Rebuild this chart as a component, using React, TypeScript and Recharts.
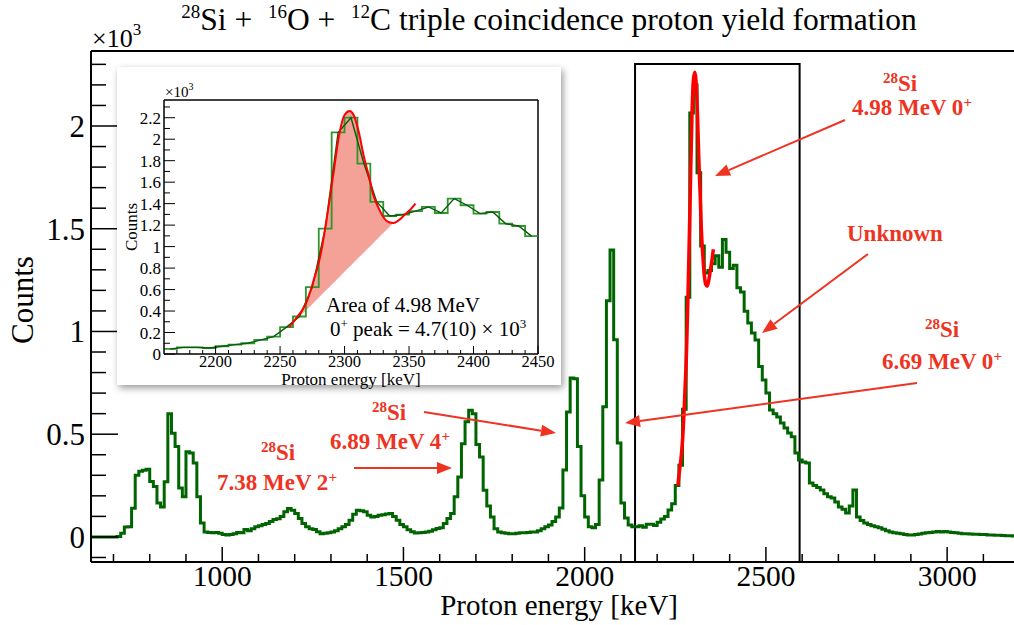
import React from 'react';
import { ComposedChart, Line, Area, XAxis, YAxis, ReferenceArea, ReferenceLine } from 'recharts';

const SERIF = "'Liberation Serif', 'DejaVu Serif', serif";
const GREEN = '#006400';
const RED = '#ee3322';

// Histogram: 10 keV bins starting at 640 keV
const HIST_START = 640;
const HIST_STEP = 10;
const counts = [
  0, 0, 0, 0, 0, 0, 0, 2, 18, 48,
  50, 140, 300, 320, 325, 330, 270, 245, 165, 146,
  268, 600, 505, 440, 238, 195, 414, 409, 360, 195,
  68, 24, 22, 20, 22, 18, 12, 10, 12, 15,
  22, 20, 36, 30, 40, 49, 55, 60, 65, 75,
  85, 89, 100, 122, 138, 130, 114, 90, 65, 50,
  40, 36, 25, 16, 18, 20, 24, 30, 40, 49,
  60, 81, 110, 130, 128, 122, 105, 97, 100, 105,
  108, 112, 114, 100, 81, 60, 49, 35, 25, 19,
  20, 22, 24, 28, 35, 41, 45, 65, 90, 114,
  195, 292, 454, 560, 616, 600, 450, 389, 227, 150,
  97, 40, 24, 20, 18, 16, 16, 18, 20, 20,
  22, 24, 24, 30, 40, 49, 58, 75, 97, 141,
  326, 608, 774, 770, 440, 200, 97, 49, 45, 60,
  277, 633, 1150, 1397, 960, 457, 165, 92, 58, 49,
  49, 55, 47, 62, 62, 56, 72, 87, 100, 131,
  162, 250, 349, 622, 1167, 2063, 2200, 1773, 1416, 1285,
  1297, 1330, 1369, 1313, 1447, 1385, 1307, 1322, 1213, 1192,
  1098, 1041, 993, 959, 829, 764, 700, 618, 600, 584,
  555, 530, 506, 487, 409, 375, 365, 360, 263, 250,
  240, 229, 210, 195, 190, 170, 146, 135, 117, 150,
  229, 97, 80, 68, 60, 55, 49, 45, 38, 30,
  24, 20, 18, 15, 12, 10, 10, 12, 14, 18,
  20, 22, 24, 26, 24, 26, 24, 22, 20, 18,
  16, 16, 14, 13, 13, 12, 12, 10, 10, 8,
  8, 7, 6, 6, 5,
];

// Fit (Gaussian + background)
const fitX = [2257, 2263, 2267, 2271, 2276, 2281, 2286, 2291, 2296, 2300, 2304, 2307, 2311, 2315, 2319, 2322, 2326, 2330, 2334, 2338, 2342, 2347, 2351, 2355];
const fitY = [249, 342, 404, 498, 684, 902, 1245, 1649, 2053, 2225, 2262, 2225, 2069, 1836, 1649, 1493, 1369, 1276, 1229, 1220, 1245, 1300, 1344, 1400];
// Linear background under the peak (shaded area lower edge)
const bgX = [2257, 2338];
const bgY = [249, 1222];

const mainXTicks = [700, 800, 900, 1000, 1100, 1200, 1300, 1400, 1500, 1600, 1700, 1800, 1900, 2000, 2100, 2200, 2300, 2400, 2500, 2600, 2700, 2800, 2900, 3000, 3100];
const mainYTicks = [-100, 0, 100, 200, 300, 400, 500, 600, 700, 800, 900, 1000, 1100, 1200, 1300, 1400, 1500, 1600, 1700, 1800, 1900, 2000, 2100, 2200, 2300];
const insetXTicks = [2170, 2180, 2190, 2200, 2210, 2220, 2230, 2240, 2250, 2260, 2270, 2280, 2290, 2300, 2310, 2320, 2330, 2340, 2350, 2360, 2370, 2380, 2390, 2400, 2410, 2420, 2430, 2440, 2450];
const insetYTicks = [0, 100, 200, 300, 400, 500, 600, 700, 800, 900, 1000, 1100, 1200, 1300, 1400, 1500, 1600, 1700, 1800, 1900, 2000, 2100, 2200, 2300];

const MAIN_X = [638, 3190];
const MAIN_Y = [-122, 2365];
const BOX = { x1: 2139, x2: 2593, y2: 2302 };
const INSET_X = [2160, 2450];
const INSET_Y = [0, 2365];

const histData = counts.map((c, i) => ({ x: HIST_START + i * HIST_STEP, y: c }));
histData.push({ x: HIST_START + counts.length * HIST_STEP, y: counts[counts.length - 1] });

const insetStep = histData.filter((d) => d.x >= INSET_X[0] && d.x <= INSET_X[1]);
const insetStepData = insetStep.map((d, i) =>
  d.x === INSET_X[1] ? { x: d.x, y: insetStep[i - 1].y } : d
);
const insetCenters = histData
  .filter((d) => d.x >= INSET_X[0] && d.x < INSET_X[1])
  .map((d) => ({ x: d.x + HIST_STEP / 2, y: d.y }));

const fitData = fitX.map((x, i) => ({ x, y: fitY[i] }));
const bgAt = (x: number) => bgY[0] + ((x - bgX[0]) * (bgY[1] - bgY[0])) / (bgX[1] - bgX[0]);
const shadeData = fitX
  .map((x, i) => ({ x, range: [bgAt(x), fitY[i]] }))
  .filter((d) => d.x >= bgX[0] && d.x <= bgX[1]);

const fmtK = (v: number) => String(Math.round(v / 100) / 10);

const MainXTick = (p: any) => {
  const v = p.payload.value;
  const major = v % 500 === 0;
  return (
    <g>
      <line x1={p.x} x2={p.x} y1={p.y} y2={p.y - (major ? 15 : 8)} stroke="#000" strokeWidth={1.5} />
      {major && (
        <text x={p.x} y={p.y + 24} textAnchor="middle" fontFamily={SERIF} fontSize={29.5} fill="#000">
          {v}
        </text>
      )}
    </g>
  );
};

const MainYTick = (p: any) => {
  const v = p.payload.value;
  const major = v % 500 === 0;
  return (
    <g>
      <line x1={p.x} x2={p.x + (major ? 27 : 15)} y1={p.y} y2={p.y} stroke="#000" strokeWidth={1.5} />
      {major && (
        <text x={p.x - 6} y={p.y + 11} textAnchor="end" fontFamily={SERIF} fontSize={31} fill="#000">
          {fmtK(v)}
        </text>
      )}
    </g>
  );
};

const InsetXTick = (p: any) => {
  const v = p.payload.value;
  const major = v % 50 === 0;
  return (
    <g>
      <line x1={p.x} x2={p.x} y1={p.y} y2={p.y - (major ? 8 : 4)} stroke="#000" strokeWidth={1} />
      {major && (
        <text x={p.x} y={p.y + 13} textAnchor="middle" fontFamily={SERIF} fontSize={16.5} fill="#000">
          {v}
        </text>
      )}
    </g>
  );
};

const InsetYTick = (p: any) => {
  const v = p.payload.value;
  const major = v % 200 === 0;
  return (
    <g>
      <line x1={p.x} x2={p.x + (major ? 11 : 6)} y1={p.y} y2={p.y} stroke="#000" strokeWidth={1} />
      {major && (
        <text x={p.x - 3} y={p.y + 6} textAnchor="end" fontFamily={SERIF} fontSize={17} fill="#000">
          {fmtK(v)}
        </text>
      )}
    </g>
  );
};

function MainChart() {
  return (
    <ComposedChart width={1030} height={625} margin={{ top: 51, right: 14, bottom: 0, left: 0 }}>
      <XAxis
        dataKey="x"
        type="number"
        domain={MAIN_X}
        allowDataOverflow
        ticks={mainXTicks}
        interval={0}
        tickSize={0}
        tickMargin={0}
        tickLine={false}
        height={63}
        axisLine={{ stroke: '#000', strokeWidth: 2 }}
        tick={<MainXTick />}
      />
      <YAxis
        type="number"
        domain={MAIN_Y}
        allowDataOverflow
        ticks={mainYTicks}
        interval={0}
        width={91}
        tickSize={0}
        tickMargin={0}
        tickLine={false}
        axisLine={{ stroke: '#000', strokeWidth: 2 }}
        tick={<MainYTick />}
      />
      <ReferenceLine y={MAIN_Y[1]} stroke="#000" strokeWidth={2} />
      <ReferenceArea
        x1={BOX.x1}
        x2={BOX.x2}
        y1={MAIN_Y[0]}
        y2={BOX.y2}
        fill="none"
        fillOpacity={0}
        stroke="#000"
        strokeWidth={2}
      />
      <Line data={histData} dataKey="y" type="stepAfter" stroke={GREEN} strokeWidth={3} dot={false} isAnimationActive={false} />
      <Line data={fitData} dataKey="y" type="monotone" stroke="#ff0000" strokeWidth={3.5} dot={false} isAnimationActive={false} />
    </ComposedChart>
  );
}

function InsetChart() {
  return (
    <ComposedChart width={444} height={318} margin={{ top: 33, right: 23, bottom: 0, left: 0 }}>
      <XAxis
        dataKey="x"
        type="number"
        domain={INSET_X}
        allowDataOverflow
        ticks={insetXTicks}
        interval={0}
        tickSize={0}
        tickMargin={0}
        tickLine={false}
        height={31}
        axisLine={{ stroke: '#000', strokeWidth: 1.5 }}
        tick={<InsetXTick />}
      />
      <YAxis
        type="number"
        domain={INSET_Y}
        allowDataOverflow
        ticks={insetYTicks}
        interval={0}
        width={47}
        tickSize={0}
        tickMargin={0}
        tickLine={false}
        axisLine={{ stroke: '#000', strokeWidth: 1.5 }}
        tick={<InsetYTick />}
      />
      <ReferenceLine y={INSET_Y[1]} stroke="#000" strokeWidth={1.5} />
      <ReferenceLine x={INSET_X[1]} stroke="#000" strokeWidth={1.5} />
      <Area data={shadeData} dataKey="range" type="monotone" fill="#f4a197" fillOpacity={1} stroke="none" isAnimationActive={false} />
      <Line data={insetStepData} dataKey="y" type="stepAfter" stroke="#2f962f" strokeWidth={1.8} dot={false} isAnimationActive={false} />
      <Line data={insetCenters} dataKey="y" type="linear" stroke="#0b5a0b" strokeWidth={1.4} dot={false} isAnimationActive={false} />
      <Line data={fitData} dataKey="y" type="monotone" stroke="#ff0000" strokeWidth={2} dot={false} isAnimationActive={false} />
    </ComposedChart>
  );
}

function Arrow({ x1, y1, x2, y2 }: { x1: number; y1: number; x2: number; y2: number }) {
  const ang = Math.atan2(y2 - y1, x2 - x1);
  const L = 15;
  const W = 6;
  const bx = x2 - L * Math.cos(ang);
  const by = y2 - L * Math.sin(ang);
  const px = -Math.sin(ang) * W;
  const py = Math.cos(ang) * W;
  return (
    <g>
      <line x1={x1} y1={y1} x2={bx} y2={by} stroke={RED} strokeWidth={2} />
      <polygon points={`${x2},${y2} ${bx + px},${by + py} ${bx - px},${by - py}`} fill={RED} />
    </g>
  );
}

function Sup({ children, size, dy }: { children: React.ReactNode; size: number; dy: number }) {
  return (
    <tspan fontSize={size} dy={-dy}>
      {children}
    </tspan>
  );
}

function Overlay() {
  const ann = { fontFamily: SERIF, fontWeight: 'bold' as const, fill: RED, fontSize: 23 };
  return (
    <svg width={1014} height={625} style={{ position: 'absolute', left: 0, top: 0, pointerEvents: 'none' }}>
      {/* title */}
      <text x={549} y={30} textAnchor="middle" fontFamily={SERIF} fontSize={31.5} fill="#000" style={{ whiteSpace: 'pre' }}>
        <tspan fontSize={19} dy={-12}>28</tspan>
        <tspan dy={12}>{'Si +  '}</tspan>
        <tspan fontSize={19} dy={-12}>16</tspan>
        <tspan dy={12}>{'O +  '}</tspan>
        <tspan fontSize={19} dy={-12}>12</tspan>
        <tspan dy={12}>C triple coincidence proton yield formation</tspan>
      </text>
      <text x={92} y={47} fontFamily={SERIF} fontSize={26} fill="#000">
        ×10<tspan fontSize={17} dy={-12}>3</tspan>
      </text>
      <text x={33} y={300} transform="rotate(-90 33 300)" textAnchor="middle" fontFamily={SERIF} fontSize={31} fill="#000">
        Counts
      </text>
      <text x={678} y={615} textAnchor="end" fontFamily={SERIF} fontSize={29} fill="#000">
        Proton energy [keV]
      </text>

      {/* inset texts */}
      <text x={165} y={97} fontFamily={SERIF} fontSize={15} fill="#000">
        ×10<tspan fontSize={10} dy={-7}>3</tspan>
      </text>
      <text x={137} y={227} transform="rotate(-90 137 227)" textAnchor="middle" fontFamily={SERIF} fontSize={17} fill="#000">
        Counts
      </text>
      <text x={351} y={385} textAnchor="middle" fontFamily={SERIF} fontSize={17} fill="#000">
        Proton energy [keV]
      </text>
      <text x={326} y={312} fontFamily={SERIF} fontSize={21} fill="#000">
        Area of 4.98 MeV
      </text>
      <text x={330} y={336} fontFamily={SERIF} fontSize={21} fill="#000" style={{ whiteSpace: 'pre' }}>
        0<tspan fontSize={13} dy={-8}>+</tspan>
        <tspan dy={8}>{' peak = 4.7(10) × 10'}</tspan>
        <tspan fontSize={13} dy={-8}>3</tspan>
      </text>

      {/* annotations */}
      <text x={883} y={91} {...ann}>
        <Sup size={15} dy={8}>28</Sup>
        <tspan dy={8}>Si</tspan>
      </text>
      <text x={852} y={115} {...ann}>
        4.98 MeV 0<Sup size={15} dy={8}>+</Sup>
      </text>
      <Arrow x1={845} y1={120} x2={715} y2={176} />

      <text x={847} y={241} {...ann}>Unknown</text>
      <Arrow x1={868} y1={254} x2={762} y2={333} />

      <text x={925} y={337} {...ann}>
        <Sup size={15} dy={8}>28</Sup>
        <tspan dy={8}>Si</tspan>
      </text>
      <text x={882} y={369} {...ann}>
        6.69 MeV 0<Sup size={15} dy={8}>+</Sup>
      </text>
      <Arrow x1={917} y1={383} x2={625} y2={423} />

      <text x={372} y={420} {...ann}>
        <Sup size={15} dy={8}>28</Sup>
        <tspan dy={8}>Si</tspan>
      </text>
      <text x={330} y={449} {...ann}>
        6.89 MeV 4<Sup size={15} dy={8}>+</Sup>
      </text>
      <Arrow x1={424} y1={412} x2={556} y2={433} />

      <text x={261} y={460} {...ann}>
        <Sup size={15} dy={8}>28</Sup>
        <tspan dy={8}>Si</tspan>
      </text>
      <text x={217} y={490} {...ann}>
        7.38 MeV 2<Sup size={15} dy={8}>+</Sup>
      </text>
      <Arrow x1={354} y1={468} x2={452} y2={468} />
    </svg>
  );
}

export default function App() {
  return (
    <div
      style={{
        position: 'absolute',
        left: 0,
        top: 0,
        width: 1014,
        height: 625,
        overflow: 'hidden',
        background: '#fff',
        fontFamily: SERIF,
      }}
    >
      <div style={{ position: 'absolute', left: 0, top: 0 }}>
        <MainChart />
      </div>
      <div
        style={{
          position: 'absolute',
          left: 117,
          top: 67,
          width: 444,
          height: 318,
          background: '#fff',
          boxShadow: '2px 3px 7px rgba(0,0,0,0.4)',
        }}
      >
        <InsetChart />
      </div>
      <Overlay />
    </div>
  );
}
